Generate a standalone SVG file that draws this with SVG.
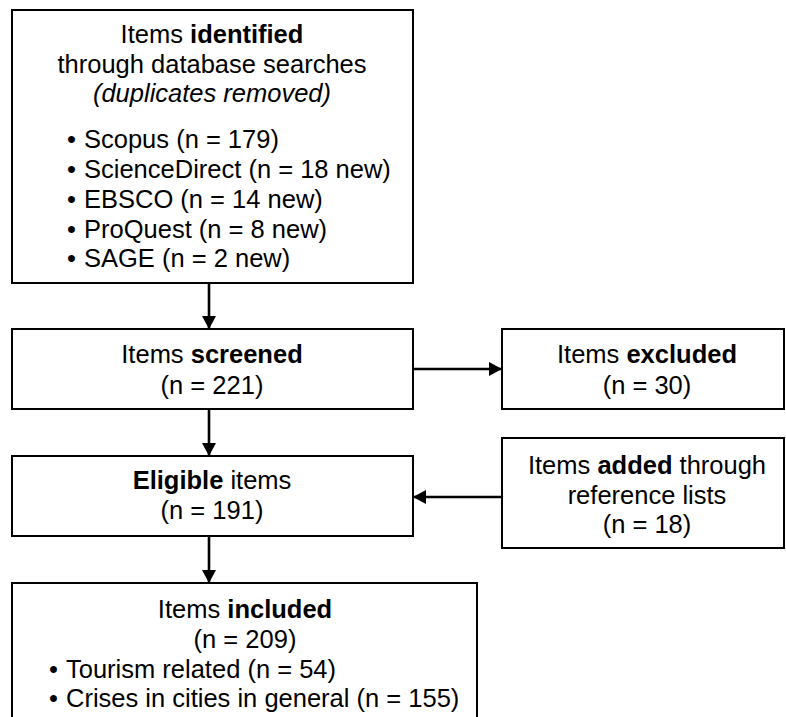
<svg xmlns="http://www.w3.org/2000/svg" width="786" height="717" viewBox="0 0 786 717">
<defs>
<style>
.box{fill:#fff;stroke:#000;stroke-width:2}
.t{font-family:"Liberation Sans",Arial,sans-serif;font-size:25.5px;fill:#000}
.c{text-anchor:middle}
.b{font-weight:bold}
.conn{stroke:#000;stroke-width:2.6;fill:none}
</style>
<marker id="ah" markerUnits="userSpaceOnUse" markerWidth="14" markerHeight="16" refX="13" refY="7" orient="auto">
<path d="M0,0 L13,7 L0,14 Z" fill="#000"/>
</marker>
</defs>
<rect width="786" height="717" fill="#fff"/>
<g id="identified">
<rect class="box" x="12" y="10" width="401" height="273"/>
<text class="t c" x="212" y="43">Items <tspan class="b">identified</tspan></text>
<text class="t c" x="212" y="73">through database searches</text>
<text class="t c" x="212" y="102" font-style="italic">(duplicates removed)</text>
<text class="t" x="67" y="148">•</text><text class="t" x="84" y="148">Scopus (n = 179)</text>
<text class="t" x="67" y="178">•</text><text class="t" x="84" y="178">ScienceDirect (n = 18 new)</text>
<text class="t" x="67" y="208">•</text><text class="t" x="84" y="208">EBSCO (n = 14 new)</text>
<text class="t" x="67" y="238">•</text><text class="t" x="84" y="238">ProQuest (n = 8 new)</text>
<text class="t" x="67" y="267">•</text><text class="t" x="84" y="267">SAGE (n = 2 new)</text>
</g>
<g id="screened">
<rect class="box" x="12" y="329" width="401" height="80"/>
<text class="t c" x="212" y="363">Items <tspan class="b">screened</tspan></text>
<text class="t c" x="212" y="394">(n = 221)</text>
</g>
<g id="excluded">
<rect class="box" x="502" y="329" width="282" height="80"/>
<text class="t c" x="647" y="363">Items <tspan class="b">excluded</tspan></text>
<text class="t c" x="647" y="394">(n = 30)</text>
</g>
<g id="eligible">
<rect class="box" x="12" y="456" width="401" height="80"/>
<text class="t c" x="212" y="489"><tspan class="b">Eligible</tspan> items</text>
<text class="t c" x="212" y="519">(n = 191)</text>
</g>
<g id="added">
<rect class="box" x="502" y="438" width="282" height="110"/>
<text class="t c" x="647" y="474">Items <tspan class="b">added</tspan> through</text>
<text class="t c" x="647" y="504">reference lists</text>
<text class="t c" x="647" y="533">(n = 18)</text>
</g>
<g id="included">
<rect class="box" x="12" y="583" width="465" height="200"/>
<text class="t c" x="245" y="618">Items <tspan class="b">included</tspan></text>
<text class="t c" x="245" y="648">(n = 209)</text>
<text class="t" x="49" y="678">•</text><text class="t" x="66" y="678">Tourism related (n = 54)</text>
<text class="t" x="49" y="707">•</text><text class="t" x="66" y="707">Crises in cities in general (n = 155)</text>
</g>
<g id="connectors">
<line class="conn" x1="209" y1="283" x2="209" y2="329" marker-end="url(#ah)"/>
<line class="conn" x1="209" y1="409" x2="209" y2="456" marker-end="url(#ah)"/>
<line class="conn" x1="209" y1="536" x2="209" y2="583" marker-end="url(#ah)"/>
<line class="conn" x1="413" y1="369" x2="502" y2="369" marker-end="url(#ah)"/>
<line class="conn" x1="502" y1="497" x2="413" y2="497" marker-end="url(#ah)"/>
</g>
</svg>
